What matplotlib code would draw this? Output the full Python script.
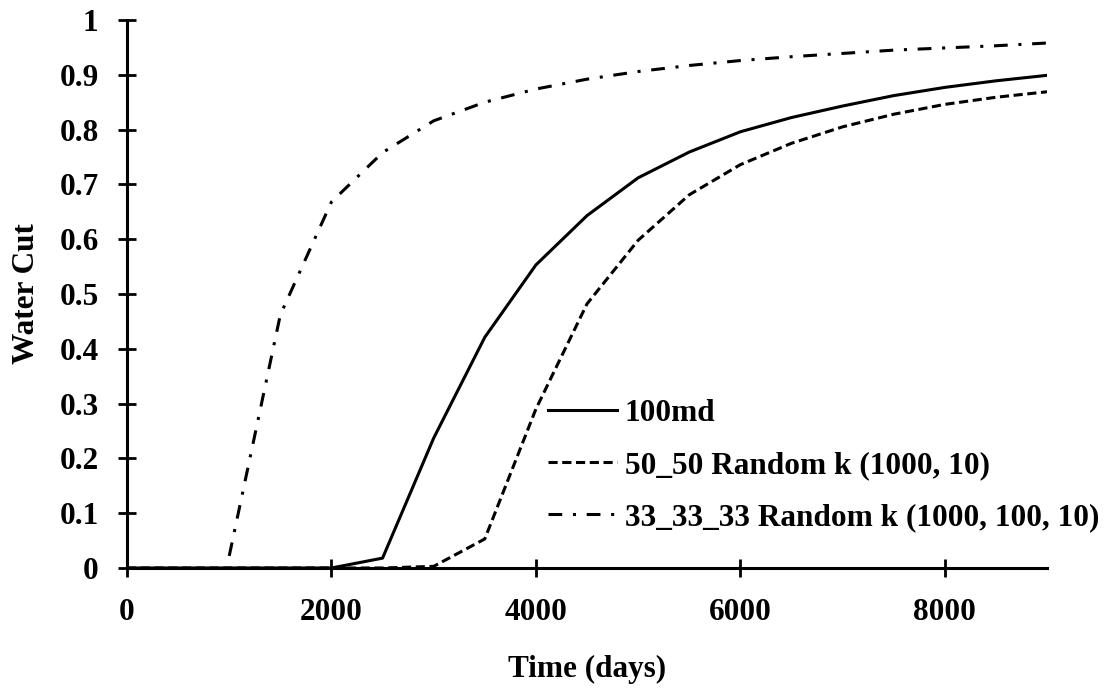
import matplotlib.pyplot as plt

# time steps (days) and water cut for each permeability case
days = [0, 500, 1000, 1500, 2000, 2500, 3000, 3500, 4000, 4500, 5000,
        5500, 6000, 6500, 7000, 7500, 8000, 8500, 9000]
wc_100md = [0, 0, 0, 0, 0, 0.018, 0.237, 0.421, 0.553, 0.643, 0.712,
            0.759, 0.796, 0.822, 0.843, 0.862, 0.877, 0.889, 0.899]
wc_50_50 = [0, 0, 0, 0, 0, 0, 0.003, 0.053, 0.29, 0.482, 0.598,
            0.681, 0.736, 0.775, 0.805, 0.828, 0.846, 0.859, 0.869]
days_33 = days[2:]
wc_33_33_33 = [0.022, 0.462, 0.668, 0.758, 0.816, 0.85, 0.874, 0.892,
               0.906, 0.917, 0.926, 0.933, 0.939, 0.945, 0.949, 0.953, 0.958]

plt.rcParams['font.family'] = 'Liberation Serif'
plt.rcParams['font.weight'] = 'bold'
plt.rcParams['font.size'] = 22.5

fig = plt.figure(figsize=(11.13, 6.92), dpi=100)
ax = fig.add_axes([0.1141, 0.1792, 0.8266, 0.7919])

ax.plot(days, wc_100md, color='black', lw=2.2, label='100md')
ax.plot(days, wc_50_50, color='black', lw=2.2, dashes=(3, 1.5),
        label='50_50 Random k (1000, 10)')
ax.plot(days_33, wc_33_33_33, color='black', lw=2.2, dashes=(4.5, 3.5, 1, 3.5),
        label='33_33_33 Random k (1000, 100, 10)')

ax.set_xlim(0, 9000)
ax.set_ylim(0, 1)
ax.set_xticks([0, 2000, 4000, 6000, 8000])
ax.set_yticks([0, 0.1, 0.2, 0.3, 0.4, 0.5, 0.6, 0.7, 0.8, 0.9, 1])
ax.set_yticklabels(['0', '0.1', '0.2', '0.3', '0.4', '0.5', '0.6', '0.7',
                    '0.8', '0.9', '1'])
for s in ['top', 'right']:
    ax.spines[s].set_visible(False)
for s in ['left', 'bottom']:
    ax.spines[s].set_linewidth(2.2)
ax.tick_params(direction='inout', length=13, width=2)
ax.tick_params(axis='x', pad=15)
ax.tick_params(axis='y', pad=14)

ax.set_xlabel('Time (days)', fontweight='bold', labelpad=20)
ax.set_ylabel('Water Cut', fontweight='bold', labelpad=13.5)

ax.legend(loc='upper left', bbox_to_anchor=(0.4576, 0.309), frameon=False,
          handlelength=2.2, handletextpad=0.26, labelspacing=0.74,
          borderpad=0, borderaxespad=0)

fig.savefig('out.png', dpi=100)
